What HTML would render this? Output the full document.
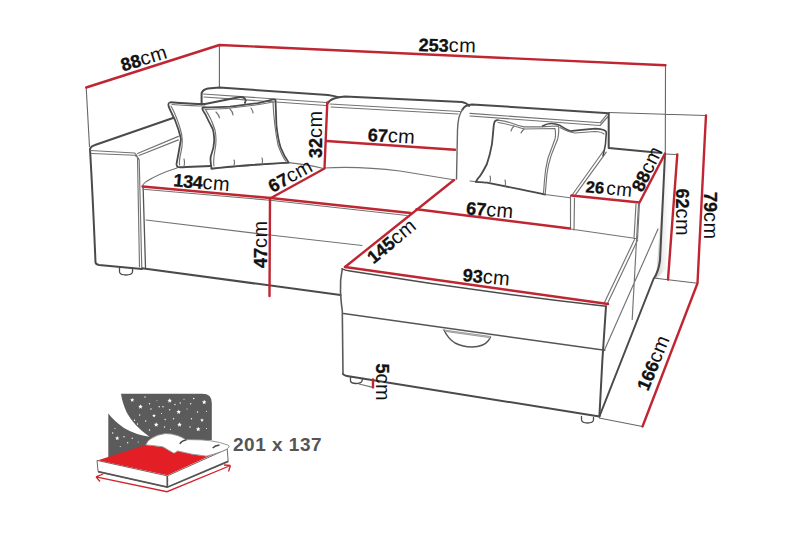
<!DOCTYPE html>
<html><head><meta charset="utf-8"><style>
html,body{margin:0;padding:0;background:#fff;width:800px;height:533px;overflow:hidden}
svg{display:block}
text{font-family:"Liberation Sans",sans-serif;fill:#111}
.b{font-weight:bold;stroke:#111;stroke-width:0.35}
.c{font-size:20px;letter-spacing:0.4px}
.d{fill:none;stroke:#4a4a4a;stroke-width:2;stroke-linecap:round;stroke-linejoin:round}
.t{fill:none;stroke:#737373;stroke-width:1.15;stroke-linecap:round;stroke-linejoin:round}
.g{fill:none;stroke:#666;stroke-width:1.1}
.r{fill:none;stroke:#bf2632;stroke-width:2.4;stroke-linecap:round;stroke-linejoin:round}
</style></head><body>
<svg width="800" height="533" viewBox="0 0 800 533">
<defs><linearGradient id="sh" x1="0" y1="0" x2="1" y2="0"><stop offset="0" stop-color="#c8c8c8"/><stop offset="1" stop-color="#fff" stop-opacity="0"/></linearGradient></defs>
<path fill="url(#sh)" d="M665,156 L672,156 L667,268 L656,279 Z"/>
<!-- extension lines -->
<path class="g" d="M86.2,87.5 L89.5,147 M219.4,45 L219.4,87.5 M665.5,65.3 L665.3,153.5 M608.7,112.5 L706,115.5 M664,154 L677,154.5 M653.5,278 L697.5,283.2 M599,418 L642.5,426.5"/>

<!-- LEFT ARM -->
<path class="d" d="M90.5,148 Q91.5,146 95,145 L173,118"/>
<path class="d" d="M90,149 Q93,200 95.5,262.5 Q96,264.5 99,265 L142,269"/>
<path class="t" d="M90.5,150.5 L134.6,153 Q137,154.6 137.5,158 L139.5,267 M91.5,153.5 L134.6,155.2 Q138.5,157 139.2,160 L141.75,267"/>
<path class="t" d="M137.5,153.5 L178.4,136.4 M139.1,155.5 L178.4,139.9"/>
<!-- leg left -->
<path class="d" style="stroke-width:1.3" d="M119.5,267.5 L119.5,272 Q120,275 126,275 Q132,275 132.5,272 L132.5,268.5"/>

<!-- MAIN SEAT -->
<path class="d" style="stroke:#555;stroke-width:1.3" d="M143.1,186.5 L145.5,267.5"/>
<path class="t" d="M146,220 L270,235 L362,245.5 M143,189.2 L270,200.2 L407,215.5"/>
<path class="d" d="M142,268.3 L340.5,295"/>
<!-- seat back edge -->
<path class="t" d="M142.5,185.5 Q145,182 146,181.7 Q158,174 177,168 M211,168.5 L288.6,162.6 Q305,164 323.5,168.5 M324,168 Q360,166 400,171 L455,180 M476,181.8 L470,181 M545.2,194.5 L570,197.8"/>

<!-- BACK CUSHIONS -->
<path class="d" d="M201.6,104.4 L201.6,93.1 Q203,89.4 208,88.5 L219.4,87.5 L328,95 Q335,96 339,97.5 M327.5,103.5 Q329.5,100 334,98.5 Q338,97 345,96.5 L462,102 Q467,103 469,106 M462.5,109.5 Q465,104.5 472,104.4 L608.7,113.2"/>
<path class="t" d="M203.4,94 L326.25,102.5 M204,97 L326,105.5 M330,104 L460,111.5 M331,107 L458,114 M470,113.4 L600.4,122.7 L607.2,114.2 M470,116 L600,125.5 L608,116.5"/>
<path class="d" style="stroke:#666;stroke-width:1.4" d="M462.5,109.5 Q458,115 457.5,130 L456.5,179"/>
<path class="d" d="M608.7,113.4 L608.7,148 L661.5,153"/>
<path class="t" d="M603.8,150.5 L572.5,194.5 M606.3,152.2 L575,195.3"/>

<!-- PILLOWS main -->
<path class="d" style="stroke-width:1.8" d="M211,166 L186,167 Q179,167.5 177.5,167 Q176,164 176.6,163.5 Q179,151 181,139 Q179,130 175,120 Q170,110 168.75,106.6 Q167.5,103 170.5,102.25 Q190,104 205,104 Q225,100 240,97 Q245,96.9 245.75,100.5 L244.9,103"/>
<path class="t" d="M171,106 Q176,115 180,128 Q184,140 181,152 Q179,160 179.5,165 M172,104.5 Q195,106 205,106"/>
<path class="d" style="stroke-width:1.8" d="M211.6,168.75 Q210,160 210.75,156.5 Q214,148 214.25,140.75 Q214,132 212.5,128.5 Q208,120 205.5,114.5 Q201,108 202.9,107.5 Q220,107 230,106.6 Q250,104 258,103.1 Q268,101 272,99.6 Q276,99 275.5,100.5 Q276,112 276.4,125 Q278,140 280.75,147.75 Q284,156 288.6,162.6 Q270,163.5 247.5,165.25 Q225,167 211.6,168.75 Z"/>
<path class="t" d="M205.5,109.5 Q212,120 215,130 Q217,140 215,150 Q213,160 214,166 M205,109.5 Q240,108.5 273,102 Q274,125 278,145 Q282,156 286,161.5"/>
<path class="t" d="M216,112 Q219,115 219.5,118 M230,109 Q233,112 233,115 M251,108 Q253,111 253,113 M184,159 Q185,163 184,166 M234,160 Q235,163 234,165 M262,158 Q263,161 262,164"/>
<!-- PILLOWS chaise -->
<path class="d" style="stroke-width:1.8" d="M475.9,181.8 Q478,178 480.1,175.9 Q484,170 486.9,164 Q490,155 492,143.8 Q493,134 493.6,126.9 Q494,122 495.3,121 Q496,120 497.9,120.1"/>
<path class="d" style="stroke-width:1.8" d="M475.9,181.8 Q485,182.5 486.9,182.6 L520.7,189.4 Q535,192.5 545.2,194.5"/>
<path class="t" d="M497.9,120.1 Q505,121 510.5,122.7 Q518,125.5 524,126.9 L541,126.9 L556.1,126 Q559,126 558.7,127.7 Q559,133 557.8,138.7 Q554,148 551.1,155.6 Q548,165 546.9,174.2 Q546,185 545.2,194.5 M498,122.5 Q510,124.5 524,129 L555,128.5 Q556,135 555,139 Q551,150 548,158 Q545,170 544.5,180 L543.5,193"/>
<path class="t" d="M514,126 Q512,128 511,131 M524,129 Q522,131 521,133 M490,176 Q491,179 490,182 M505,180 Q506,183 505,186"/>
<path class="d" style="stroke-width:1.6" d="M542.6,126 Q547,123.5 551,123.5 Q556,123.5 559.5,125.2 Q565,129 570,131.1 Q580,130 586.9,129.4 L595.3,128.6 Q601,129 603.8,130 Q606.5,131 606.3,133 L605.5,143.8 Q604.5,150 603,155.6"/>
<path class="t" d="M560,127.5 Q568,132 575,133 L595,131.5 Q602,132 604,134"/>

<!-- CHAISE ARM + SIDE -->
<path class="t" d="M570.5,195.5 L570.5,229 L636,238.5 M574.5,198 L574,230 M636,204 L634,238.5 M639.5,203 L637.5,239"/>
<path class="t" d="M637.6,240 L607,304.6 M634.5,239.5 L604,303.5"/>
<path class="d" d="M665,154 Q662.5,210 660,260.5 Q658.5,272 653.5,279 L599.4,416.5"/>
<path class="t" d="M604.7,349.6 L658,229 M638.5,204 L632.2,319.4"/>
<!-- chaise front -->
<path class="d" style="stroke-width:1.6" d="M342.1,268.9 Q345,270.3 350,271 Q480,292 606,306.2"/>
<path class="d" d="M343,374 Q344,375.5 347,376 L599.4,416.5 M606,306.2 Q602,360 599.4,416.5"/>
<path class="d" style="stroke:#555;stroke-width:1.5" d="M343.5,313.6 L604.7,350.3"/>
<path class="d" style="stroke:#555;stroke-width:1.4" d="M444,330 Q447.5,338 455,343 Q463,347 472,347 Q484,346.5 488,341 Q491,337 490.5,336.5"/>
<path class="t" style="stroke:#999" d="M444,330 L490.5,336.5 M446,331.5 L489,337.5"/>
<path class="d" style="stroke:#5a5a5a;stroke-width:1.6" d="M342.3,268.8 Q339.8,280 340.5,292 Q341,302 342.3,311 L343,374"/>
<!-- chaise legs -->
<path class="d" style="stroke-width:1.3" d="M350.5,377 L350.5,381 Q351,383.5 356,383.5 Q361,383.5 362,381 L362.5,378.5"/>
<path class="t" d="M359,384 L373,387.4"/>
<path class="d" style="stroke-width:1.3" d="M581.5,416.5 L581.5,420 Q582,423 587.5,423 Q593,423 593.5,420 L593.5,417.5"/>

<!-- RED dimension lines -->
<path class="r" d="M86.2,87.5 L219.4,45 L665.5,65.3"/>
<path class="r" d="M704.7,140 L697.5,283.2 L642.5,426.5 M706,115.5 L704.7,140"/>
<path class="r" d="M677.3,154.4 L668,279.6"/>
<path class="r" d="M142.5,186.5 L270.5,198 L410.5,213"/>
<path class="r" d="M416.5,209.25 L570,228.5"/>
<path class="r" d="M270,198 L269.5,296"/>
<path class="r" d="M271,198 L324.5,168.5 L327.3,102.5"/>
<path class="r" d="M326.5,141 L455,149.8"/>
<path class="r" d="M345,267 L454,180"/>
<path class="r" d="M345,267 L608,304"/>
<path class="r" d="M571.5,195.5 L639.5,202.5 L665,153.6"/>
<path class="r" d="M373,379.4 L373,387.4"/>

<!-- LABELS -->
<g font-size="18">
<text transform="translate(123.1,71.6) rotate(-17)"><tspan class="b">88</tspan><tspan class="c">cm</tspan></text>
<text transform="translate(418.5,51) rotate(1.5)"><tspan class="b">253</tspan><tspan class="c">cm</tspan></text>
<text transform="translate(322,158) rotate(-90)"><tspan class="b">32</tspan><tspan class="c">cm</tspan></text>
<text transform="translate(367.5,140.9) rotate(3.5)"><tspan class="b">67</tspan><tspan class="c">cm</tspan></text>
<text transform="translate(173,186.3) rotate(5)"><tspan class="b" letter-spacing="-0.3">134</tspan><tspan class="c">cm</tspan></text>
<text transform="translate(272.6,192.9) rotate(-28.5)"><tspan class="b">67</tspan><tspan class="c">cm</tspan></text>
<text transform="translate(267,268) rotate(-90)"><tspan class="b">47</tspan><tspan class="c">cm</tspan></text>
<text transform="translate(373.4,264.5) rotate(-39.5)"><tspan class="b">145</tspan><tspan class="c">cm</tspan></text>
<text transform="translate(465.8,214.2) rotate(5)"><tspan class="b">67</tspan><tspan class="c">cm</tspan></text>
<text transform="translate(462.3,281) rotate(5.5)"><tspan class="b">93</tspan><tspan class="c">cm</tspan></text>
<text transform="translate(585.3,192.2) rotate(5.5)"><tspan class="b" font-size="16.5">26</tspan><tspan class="c" dx="2.3" style="font-size:19px">cm</tspan></text>
<text transform="translate(642.2,193) rotate(-64)"><tspan class="b">88</tspan><tspan class="c">cm</tspan></text>
<text transform="translate(675.8,188.5) rotate(90)"><tspan class="b">62</tspan><tspan class="c">cm</tspan></text>
<text transform="translate(703.5,192) rotate(90)"><tspan class="b">79</tspan><tspan class="c">cm</tspan></text>
<text transform="translate(648.1,391.8) rotate(-67.5)"><tspan class="b">166</tspan><tspan class="c">cm</tspan></text>
<text transform="translate(376.4,363.5) rotate(90)"><tspan class="b">5</tspan><tspan class="c">cm</tspan></text>
</g>

<!-- BED ICON -->
<path fill="#5b5b5b" d="M121,393.7 L202.5,393.7 Q211.8,393.7 211.8,403 L211.8,440 L150,445 L108.3,458 L108.3,413.5 Q114,421 124,428 Q136,435 149.5,436.8 Q134,426 127,413 Q122,402 121,393.7 Z"/>
<g fill="#fff"><polygon points="132.20,397.74 132.80,399.18 134.35,399.30 133.17,400.31 133.53,401.83 132.20,401.02 130.87,401.83 131.23,400.31 130.05,399.30 131.60,399.18"/><circle cx="145.0" cy="397.0" r="0.68"/><polygon points="169.70,398.29 170.34,399.82 171.99,399.95 170.73,401.04 171.12,402.65 169.70,401.79 168.28,402.65 168.67,401.04 167.41,399.95 169.06,399.82"/><circle cx="193.7" cy="398.5" r="0.75"/><polygon points="204.20,399.79 204.84,401.32 206.49,401.45 205.23,402.54 205.62,404.15 204.20,403.29 202.78,404.15 203.17,402.54 201.91,401.45 203.56,401.32"/><polygon points="140.50,404.29 141.14,405.82 142.79,405.95 141.53,407.04 141.92,408.65 140.50,407.79 139.08,408.65 139.47,407.04 138.21,405.95 139.86,405.82"/><circle cx="149.5" cy="403.7" r="0.68"/><circle cx="157.0" cy="400.7" r="0.47"/><circle cx="180.2" cy="403.0" r="0.68"/><circle cx="190.7" cy="403.7" r="0.68"/><circle cx="151.0" cy="409.0" r="0.68"/><circle cx="163.0" cy="406.7" r="0.68"/><polygon points="178.70,409.59 179.34,411.12 180.99,411.25 179.73,412.34 180.12,413.95 178.70,413.09 177.28,413.95 177.67,412.34 176.41,411.25 178.06,411.12"/><circle cx="169.7" cy="409.7" r="0.68"/><circle cx="161.5" cy="413.5" r="0.54"/><polygon points="154.00,413.76 154.51,414.99 155.84,415.10 154.83,415.97 155.14,417.27 154.00,416.57 152.86,417.27 153.17,415.97 152.16,415.10 153.49,414.99"/><circle cx="139.7" cy="415.0" r="0.68"/><circle cx="145.7" cy="421.0" r="0.68"/><polygon points="156.20,422.29 156.84,423.82 158.49,423.95 157.23,425.04 157.62,426.65 156.20,425.79 154.78,426.65 155.17,425.04 153.91,423.95 155.56,423.82"/><circle cx="165.2" cy="419.5" r="0.68"/><circle cx="173.5" cy="418.7" r="0.68"/><polygon points="179.50,422.29 180.14,423.82 181.79,423.95 180.53,425.04 180.92,426.65 179.50,425.79 178.08,426.65 178.47,425.04 177.21,423.95 178.86,423.82"/><circle cx="190.0" cy="427.0" r="0.68"/><polygon points="198.20,426.79 198.84,428.32 200.49,428.45 199.23,429.54 199.62,431.15 198.20,430.29 196.78,431.15 197.17,429.54 195.91,428.45 197.56,428.32"/><polygon points="202.00,418.26 202.51,419.49 203.84,419.60 202.83,420.47 203.14,421.77 202.00,421.07 200.86,421.77 201.17,420.47 200.16,419.60 201.49,419.49"/><circle cx="191.5" cy="418.7" r="0.68"/><circle cx="197.5" cy="412.0" r="0.68"/><circle cx="206.5" cy="411.2" r="0.54"/><circle cx="187.0" cy="409.0" r="0.54"/><circle cx="134.5" cy="420.2" r="0.68"/><circle cx="137.5" cy="424.0" r="0.68"/><circle cx="149.5" cy="430.0" r="0.68"/><circle cx="164.5" cy="427.0" r="0.68"/><circle cx="170.5" cy="429.2" r="0.54"/><circle cx="132.2" cy="438.2" r="0.68"/><polygon points="117.20,435.94 117.80,437.38 119.35,437.50 118.17,438.51 118.53,440.03 117.20,439.22 115.87,440.03 116.23,438.51 115.05,437.50 116.60,437.38"/><circle cx="112.7" cy="433.0" r="0.68"/><circle cx="115.0" cy="428.5" r="0.54"/><circle cx="124.0" cy="436.7" r="0.68"/><circle cx="127.7" cy="442.7" r="0.68"/><circle cx="120.2" cy="446.5" r="0.54"/><circle cx="138.2" cy="442.0" r="0.54"/><circle cx="206.5" cy="428.5" r="0.54"/><circle cx="184.0" cy="399.2" r="0.54"/><circle cx="175.0" cy="404.5" r="0.68"/><circle cx="159.2" cy="406.7" r="0.68"/></g>
<!-- mattress -->
<path fill="#fff" stroke="#6a6a6a" stroke-width="1" d="M97,460.4 L167.3,475.9 L227.2,449 L228.2,461.4 L167.3,487.2 L98.1,471.7 Z"/>
<path fill="none" stroke="#555" stroke-width="1.7" d="M98.1,471.7 L167.3,487.2 L228.2,461.4 M167.3,475.9 L167.3,487.2"/>
<path fill="#e31e24" d="M98,460.2 L145.6,444.9 L163,447 L173.5,453 L178,451 L192,454.2 L206.5,456.2 L214,454 L167.3,475.2 Z"/>
<!-- pillows / duvet -->
<path fill="#fff" stroke="#8a8a8a" stroke-width="0.9" d="M145.6,444.9 Q147,441 150.75,438.7 Q157,434.5 165.2,433.5 Q172,433.5 177.6,435.6 Q182,437 185.9,439.7 Q189,439.5 192,439.7 Q202,439.5 210.6,440.75 Q220,442 227.2,444.9 Q230,446 229.2,446.9 Q227,449.5 223,451 Q215,454 206.5,456.2 Q199,455 192,454.2 Q184,452.5 177.6,451 Q175,453.5 173.5,453.1 Q168,450 163.1,446.9 Q154,445.5 145.6,444.9 Z"/>
<path fill="none" stroke="#4a4a4a" stroke-width="1.4" d="M179.7,443.8 Q182,440.5 186.5,439.9 M212.7,448 Q215,445.5 219.5,445"/>
<!-- arrows -->
<path fill="none" stroke="#d2232a" stroke-width="1.3" d="M96,476.8 L167,491.7 L230.5,465.5 M96,476.8 L103,474 M96,476.8 L100,481.5 M230.5,465.5 L224,465 M230.5,465.5 L228.5,471.5"/>
<text x="233" y="450.6" font-size="19" style="fill:#555;font-weight:bold;letter-spacing:0.5px">201 x 137</text>
</svg>
</body></html>
